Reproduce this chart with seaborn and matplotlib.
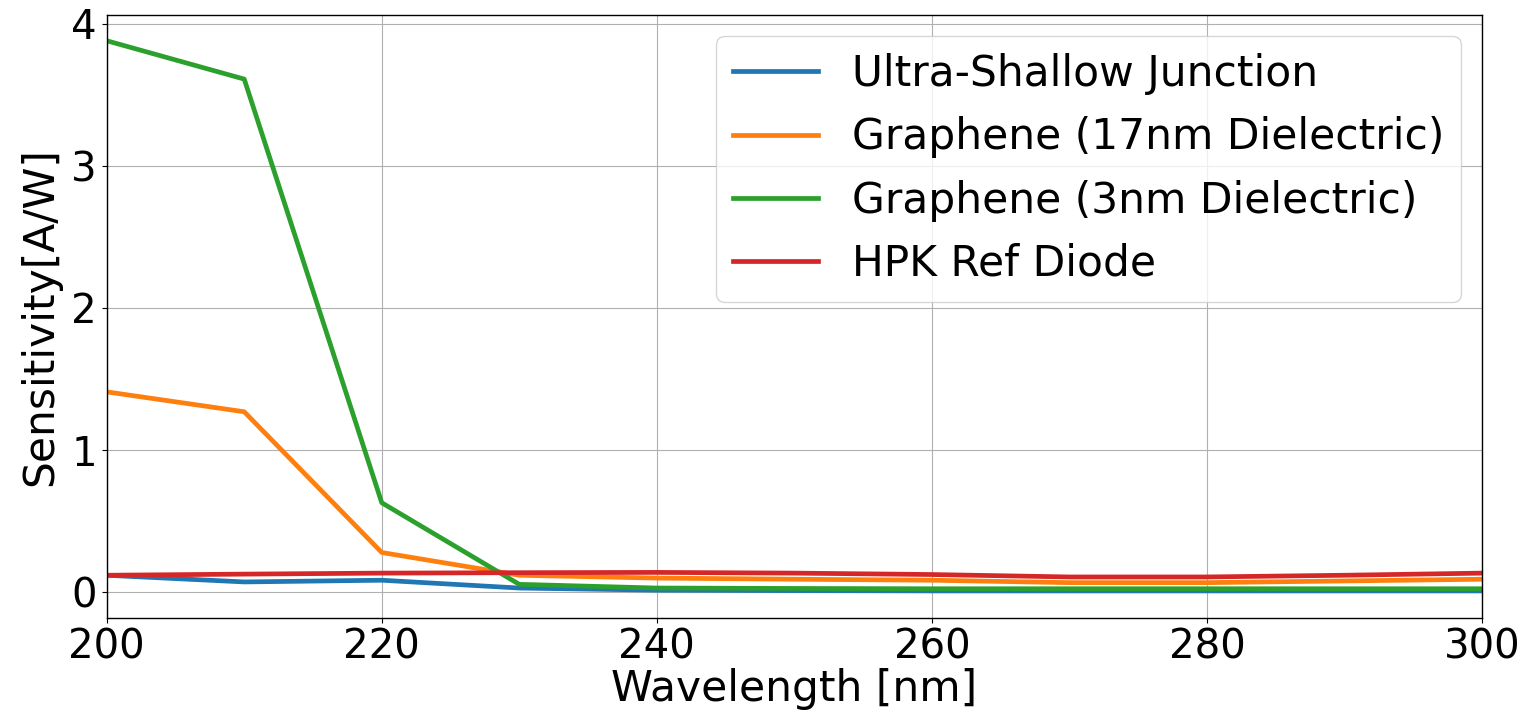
import numpy as np
import pandas as pd
import matplotlib
matplotlib.use("Agg")
import matplotlib.pyplot as plt
import seaborn as sns

wavelength = [200, 210, 220, 230, 240, 250, 260, 270, 280, 290, 300]
ultra_shallow = [0.12, 0.073, 0.085, 0.03, 0.015, 0.012, 0.01, 0.01, 0.01, 0.01, 0.01]
graphene_17nm = [1.41, 1.27, 0.28, 0.12, 0.10, 0.092, 0.085, 0.068, 0.068, 0.08, 0.092]
graphene_3nm = [3.88, 3.61, 0.63, 0.056, 0.03, 0.027, 0.025, 0.025, 0.025, 0.025, 0.025]
hpk_ref = [0.12, 0.128, 0.135, 0.138, 0.14, 0.135, 0.125, 0.108, 0.108, 0.12, 0.135]
series_names = ["Ultra-Shallow Junction", "Graphene (17nm Dielectric)",
                "Graphene (3nm Dielectric)", "HPK Ref Diode"]

frames = []
for name, vals in zip(series_names, [ultra_shallow, graphene_17nm, graphene_3nm, hpk_ref]):
    frames.append(pd.DataFrame({"Wavelength": wavelength, "Sensitivity": vals, "Series": name}))
df = pd.concat(frames, ignore_index=True)

plt.rcParams['font.family'] = ['DejaVu Sans']
fig = plt.figure(figsize=(15.24, 7.21), dpi=100)
ax = fig.add_axes([0.070, 0.143, 0.9025, 0.836])
palette = ["#1f77b4", "#ff7f0e", "#2ca02c", "#d62728"]
sns.lineplot(data=df, x="Wavelength", y="Sensitivity", hue="Series", hue_order=series_names,
             palette=palette, linewidth=3.4, ax=ax)
ax.set_xlim(200, 300)
ax.set_ylim(-0.18, 4.06)
ax.set_xticks([200, 220, 240, 260, 280, 300])
ax.set_yticks([0, 1, 2, 3, 4])
ax.tick_params(labelsize=29)
ax.set_xlabel("Wavelength [nm]", fontsize=30.5, labelpad=0)
ax.set_ylabel("Sensitivity[A/W]", fontsize=30.5, labelpad=7)
ax.grid(True, color="#b0b0b0", linewidth=0.8)
for s in ax.spines.values():
    s.set_color("black")
    s.set_linewidth(1.0)
leg = ax.legend(loc="upper right", fontsize=30.5, handlelength=2.0, framealpha=0.8)
for line in leg.get_lines():
    line.set_linewidth(3.4)
fig.savefig("out.png", dpi=100)
